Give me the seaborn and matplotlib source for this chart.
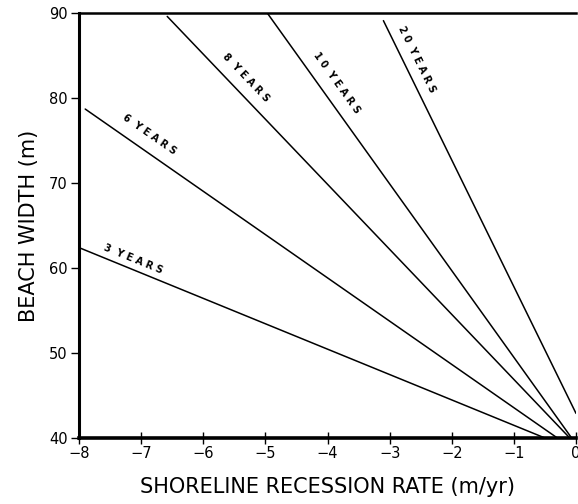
import numpy as np
import pandas as pd
import matplotlib
matplotlib.use("Agg")
import matplotlib.pyplot as plt
import seaborn as sns

# ---- data ----
years = [3, 6, 8, 10, 20]
labels = ["3  Y E A R S", "6  Y E A R S", "8  Y E A R S", "1 0  Y E A R S", "2 0  Y E A R S"]
rate_start = [-8.0, -7.9, -6.58, -4.97, -3.10]
width_start = [62.4, 78.7, 89.6, 90.0, 89.1]
rate_end = [-0.50, -0.30, -0.10, -0.07, 0.0]
width_end = [40.0, 40.0, 40.0, 40.0, 42.9]
# centres of the rotated line labels (data units)
label_rate = [-7.13, -6.86, -5.31, -3.86, -2.57]
label_width = [61.1, 75.7, 82.4, 81.8, 84.5]

x_ticks = [-8, -7, -6, -5, -4, -3, -2, -1, 0]
y_ticks = [40, 50, 60, 70, 80, 90]

rows = []
for y, r0, w0, r1, w1 in zip(years, rate_start, width_start, rate_end, width_end):
    rows.append({"years": y, "rate": r0, "width": w0})
    rows.append({"years": y, "rate": r1, "width": w1})
df = pd.DataFrame(rows)

sns.set_theme(style="white")
plt.rcParams["font.family"] = ["DejaVu Sans"]

fig = plt.figure(figsize=(5.78, 5.04), dpi=100)
ax = fig.add_axes([79 / 578, 66 / 504, (576 - 79) / 578, (438 - 13) / 504])

sns.lineplot(data=df, x="rate", y="width", units="years", estimator=None,
             color="black", linewidth=1.1, ax=ax, legend=False)

ax.set_xlim(-8, 0)
ax.set_ylim(40, 90)
ax.set_xticks(x_ticks)
ax.set_yticks(y_ticks)
ax.set_xticklabels([f"\u2212{abs(t)}" if t < 0 else str(t) for t in x_ticks])

for side in ["left", "bottom", "top"]:
    ax.spines[side].set_color("black")
ax.spines["left"].set_linewidth(2.2)
ax.spines["bottom"].set_linewidth(2.6)
ax.spines["top"].set_linewidth(1.8)
ax.spines["right"].set_visible(False)

ax.tick_params(axis="x", direction="inout", length=8, width=1.0, colors="black",
               labelsize=10.5, pad=2, bottom=True)
ax.tick_params(axis="y", direction="out", length=6, width=1.0, colors="black",
               labelsize=10.5, pad=2, left=True)

ax.set_xlabel("SHORELINE RECESSION RATE (m/yr)", fontsize=15, labelpad=11, color="black")
ax.set_ylabel("BEACH WIDTH (m)", fontsize=15, labelpad=7, color="black")

fig.canvas.draw()
for lab, lr, lwid, r0, w0, r1, w1 in zip(labels, label_rate, label_width,
                                          rate_start, width_start, rate_end, width_end):
    p0 = ax.transData.transform((r0, w0))
    p1 = ax.transData.transform((r1, w1))
    ang = np.degrees(np.arctan2(p1[1] - p0[1], p1[0] - p0[0]))
    ax.text(lr, lwid, lab, rotation=ang, rotation_mode="anchor", ha="center", va="center",
            fontsize=7, fontweight="bold", color="black")

fig.savefig("out.png", dpi=100)
